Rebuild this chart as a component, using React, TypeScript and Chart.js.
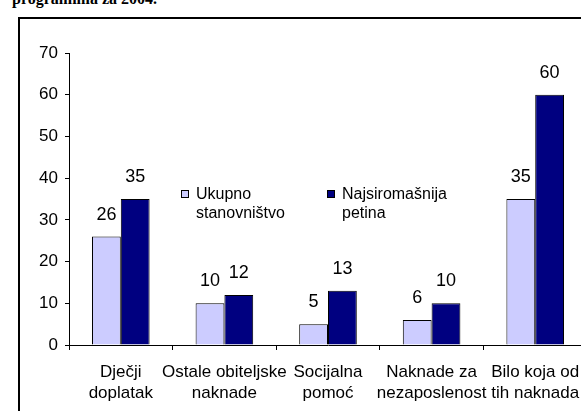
import React, { useEffect, useRef } from "react";
import { Chart, registerables } from "chart.js";

Chart.register(...registerables);

const categories: string[][] = [
  ["Dječji", "doplatak"],
  ["Ostale obiteljske", "naknade"],
  ["Socijalna", "pomoć"],
  ["Naknade za", "nezaposlenost"],
  ["Bilo koja od", "tih naknada"],
];
const ukupnoStanovnistvo = [26, 10, 5, 6, 35];
const najsiromasnijaPetina = [35, 12, 13, 10, 60];
const seriesNames: string[][] = [
  ["Ukupno", "stanovništvo"],
  ["Najsiromašnija", "petina"],
];
const seriesColors = ["#CCCCFF", "#000080"];
const yMin = 0;
const yMax = 70;
const yStep = 10;
const titleText = "programima za 2004.";

const FONT = "'Liberation Sans', Arial, sans-serif";

const valueLabels = {
  id: "valueLabels",
  afterDatasetsDraw(chart: any) {
    const { ctx } = chart;
    ctx.save();
    ctx.fillStyle = "#000";
    ctx.font = `18px ${FONT}`;
    ctx.textAlign = "center";
    ctx.textBaseline = "alphabetic";
    chart.data.datasets.forEach((ds: any, i: number) => {
      const meta = chart.getDatasetMeta(i);
      meta.data.forEach((bar: any, j: number) => {
        ctx.fillText(String(ds.data[j]), bar.x, bar.y - 17);
      });
    });
    ctx.restore();
  },
};

const insideLegend = {
  id: "insideLegend",
  afterDraw(chart: any) {
    const { ctx, chartArea } = chart;
    const offsets = [112, 258];
    const top = chartArea.top + 137;
    ctx.save();
    ctx.font = `16px ${FONT}`;
    ctx.textAlign = "left";
    ctx.textBaseline = "alphabetic";
    chart.data.datasets.forEach((ds: any, i: number) => {
      const x = chartArea.left + offsets[i];
      ctx.fillStyle = ds.backgroundColor;
      ctx.fillRect(x, top, 8, 8);
      ctx.strokeStyle = "#000";
      ctx.lineWidth = 1;
      ctx.strokeRect(x + 0.5, top + 0.5, 7, 7);
      ctx.fillStyle = "#000";
      const lines: string[] = seriesNames[i];
      lines.forEach((ln, k) => {
        ctx.fillText(ln, x + 15, top + 9 + k * 19);
      });
    });
    ctx.restore();
  },
};

function BarChart() {
  const ref = useRef<HTMLCanvasElement | null>(null);
  useEffect(() => {
    if (!ref.current) return;
    const chart = new Chart(ref.current, {
      type: "bar",
      data: {
        labels: categories as any,
        datasets: [
          {
            label: seriesNames[0].join(" "),
            data: ukupnoStanovnistvo,
            backgroundColor: seriesColors[0],
            borderColor: "#000",
            borderWidth: 1,
          },
          {
            label: seriesNames[1].join(" "),
            data: najsiromasnijaPetina,
            backgroundColor: seriesColors[1],
            borderColor: "#000",
            borderWidth: 1,
          },
        ],
      },
      options: {
        animation: false,
        responsive: false,
        layout: { padding: { left: 0, right: 13, top: 53, bottom: 0 } },
        datasets: { bar: { categoryPercentage: 0.556, barPercentage: 1 } },
        plugins: {
          legend: { display: false },
          tooltip: { enabled: false },
          title: { display: false },
        },
        scales: {
          x: {
            grid: {
              display: true,
              drawOnChartArea: false,
              drawTicks: true,
              tickLength: 5,
              offset: true,
              color: "#000",
              lineWidth: 1,
            },
            border: { display: true, color: "#000", width: 1 },
            ticks: {
              color: "#000",
              font: { family: FONT, size: 17, lineHeight: 1.24 },
              padding: 12,
              maxRotation: 0,
              autoSkip: false,
            },
            afterFit: (s: any) => {
              s.height = 85;
            },
          },
          y: {
            min: yMin,
            max: yMax,
            ticks: {
              stepSize: yStep,
              color: "#000",
              font: { family: FONT, size: 17 },
              padding: 7,
            },
            grid: {
              display: true,
              drawOnChartArea: false,
              drawTicks: true,
              tickLength: 4,
              color: "#000",
            },
            border: { display: true, color: "#000", width: 1 },
            afterFit: (s: any) => {
              s.width = 69;
            },
          },
        },
      } as any,
      plugins: [valueLabels, insideLegend],
    });
    return () => chart.destroy();
  }, []);
  return (
    <canvas
      ref={ref}
      width={600}
      height={430}
      style={{ position: "absolute", left: 0, top: 0, width: 600, height: 430 }}
    />
  );
}

export default function App() {
  return (
    <div
      style={{
        position: "fixed",
        left: 0,
        top: 0,
        width: 581,
        height: 411,
        overflow: "hidden",
        background: "#fff",
      }}
    >
      <div
        style={{
          position: "absolute",
          left: 12,
          top: -9,
          fontFamily: "'Liberation Serif', 'Times New Roman', serif",
          fontWeight: "bold",
          fontSize: 16,
          lineHeight: "16px",
          whiteSpace: "nowrap",
          color: "#000",
        }}
      >
        {titleText}
      </div>
      <div
        style={{
          position: "absolute",
          left: 18,
          top: 17,
          width: 640,
          height: 440,
          borderLeft: "2px solid #000",
          borderTop: "2px solid #000",
          boxSizing: "border-box",
        }}
      />
      <BarChart />
    </div>
  );
}
